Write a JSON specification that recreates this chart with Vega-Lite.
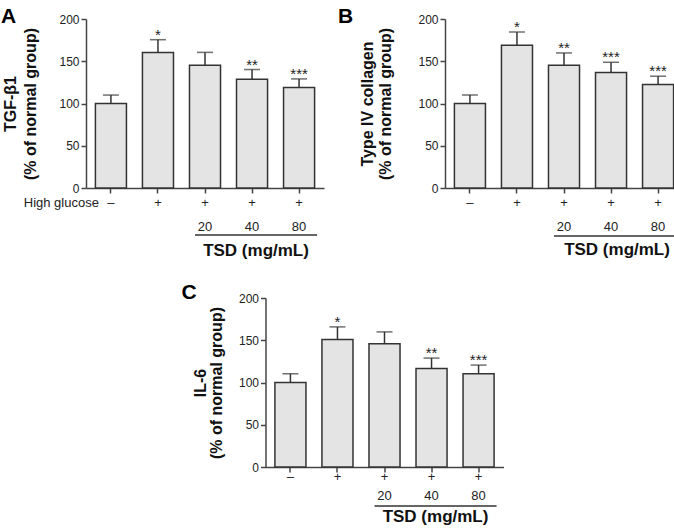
{
  "$schema": "https://vega.github.io/schema/vega-lite/v6.json",
  "padding": {"left": 0, "top": 6, "right": 0, "bottom": 0},
  "background": "white",
  "config": {
    "font": "Liberation Sans",
    "view": {"stroke": null},
    "axis": {"grid": false, "domainColor": "#444", "tickColor": "#444", "domainWidth": 1.5, "tickWidth": 1.5, "labelColor": "#222", "titleColor": "#111"},
    "axisY": {"values": [0, 50, 100, 150, 200], "labelFontSize": 12, "tickSize": 5, "labelPadding": 2, "titleFontSize": 16, "titleFontWeight": "bold", "titleLineHeight": 20},
    "axisX": {"labelExpr": "split(datum.value, '|')", "labelLineHeight": 24, "labelFontSize": 13, "labelAngle": 0, "title": null, "tickSize": 5, "labelPadding": 3},
    "title": {"fontSize": 21, "fontWeight": "bold", "anchor": "start", "frame": "bounds", "offset": 0, "color": "#000"}
  },
  "datasets": {
    "A": [
      {"cond": "–|", "mean": 100, "err": 110, "sig": ""},
      {"cond": "+|", "mean": 160.5, "err": 175.5, "sig": "*"},
      {"cond": "+|20", "mean": 145.3, "err": 160.5, "sig": ""},
      {"cond": "+|40", "mean": 128.7, "err": 140.2, "sig": "**"},
      {"cond": "+|80", "mean": 118.9, "err": 129.1, "sig": "***"}
    ],
    "B": [
      {"cond": "–|", "mean": 100, "err": 110, "sig": ""},
      {"cond": "+|", "mean": 168.9, "err": 184.6, "sig": "*"},
      {"cond": "+|20", "mean": 145.3, "err": 159.8, "sig": "**"},
      {"cond": "+|40", "mean": 136.6, "err": 148.8, "sig": "***"},
      {"cond": "+|80", "mean": 122.4, "err": 132.3, "sig": "***"}
    ],
    "C": [
      {"cond": "–|", "mean": 100, "err": 110.4, "sig": ""},
      {"cond": "+|", "mean": 150.9, "err": 165.8, "sig": "*"},
      {"cond": "+|20", "mean": 145.8, "err": 159.9, "sig": ""},
      {"cond": "+|40", "mean": 116.7, "err": 128.9, "sig": "**"},
      {"cond": "+|80", "mean": 110.4, "err": 120.6, "sig": "***"}
    ],
    "line": [{"cond": "+|20", "cond2": "+|80"}],
    "lab": [{"cond": "+|40", "t": "TSD (mg/mL)"}],
    "hg": [{"cond": "–|", "t": "High glucose"}]
  },
  "vconcat": [
    {
      "hconcat": [
        {
          "width": 238, "height": 169,
          "title": {"text": "A", "dx": -2, "dy": 18},
          "layer": [
            {"data": {"name": "A"}, "mark": {"type": "bar", "fill": "#e4e4e4", "stroke": "#333", "strokeWidth": 1.5},
             "encoding": {"x": {"field": "cond", "type": "nominal", "scale": {"domain": ["–|", "+|", "+|20", "+|40", "+|80"], "paddingInner": 0.34, "paddingOuter": 0.2}},
                          "y": {"field": "mean", "type": "quantitative", "scale": {"domain": [0, 200]}, "axis": {"title": ["TGF-β1", "(% of normal group)"], "titlePadding": 20}}}},
            {"data": {"name": "A"}, "mark": {"type": "rule", "stroke": "#333", "strokeWidth": 1.5},
             "encoding": {"x": {"field": "cond", "type": "nominal"}, "y": {"field": "mean", "type": "quantitative"}, "y2": {"field": "err"}}},
            {"data": {"name": "A"}, "mark": {"type": "tick", "size": 16, "thickness": 1.5, "color": "#333"},
             "encoding": {"x": {"field": "cond", "type": "nominal"}, "y": {"field": "err", "type": "quantitative"}}},
            {"data": {"name": "A"}, "mark": {"type": "text", "fontSize": 15, "baseline": "alphabetic", "color": "#222"},
             "encoding": {"x": {"field": "cond", "type": "nominal"}, "y": {"field": "err", "type": "quantitative"}, "text": {"field": "sig"}}},
            {"data": {"name": "line"}, "mark": {"type": "rule", "stroke": "#333", "strokeWidth": 1.5, "xOffset": -10, "x2Offset": 18, "yOffset": 47},
             "encoding": {"x": {"field": "cond", "type": "nominal"}, "x2": {"field": "cond2"}, "y": {"datum": 0, "type": "quantitative"}}},
            {"data": {"name": "lab"}, "mark": {"type": "text", "fontSize": 17, "fontWeight": "bold", "dx": 4, "dy": 63, "baseline": "middle", "color": "#111"},
             "encoding": {"x": {"field": "cond", "type": "nominal"}, "y": {"datum": 0, "type": "quantitative"}, "text": {"field": "t"}}},
            {"data": {"name": "hg"}, "mark": {"type": "text", "fontSize": 13, "dx": -12, "dy": 15, "align": "right", "baseline": "middle", "color": "#222"},
             "encoding": {"x": {"field": "cond", "type": "nominal"}, "y": {"datum": 0, "type": "quantitative"}, "text": {"field": "t"}}}
          ]
        },
        {
          "width": 238, "height": 169,
          "title": {"text": "B", "dx": -22, "dy": 18},
          "layer": [
            {"data": {"name": "B"}, "mark": {"type": "bar", "fill": "#e4e4e4", "stroke": "#333", "strokeWidth": 1.5},
             "encoding": {"x": {"field": "cond", "type": "nominal", "scale": {"domain": ["–|", "+|", "+|20", "+|40", "+|80"], "paddingInner": 0.34, "paddingOuter": 0.2}},
                          "y": {"field": "mean", "type": "quantitative", "scale": {"domain": [0, 200]}, "axis": {"title": ["Type IV collagen", "(% of normal group)"], "titlePadding": 24, "titleLineHeight": 18}}}},
            {"data": {"name": "B"}, "mark": {"type": "rule", "stroke": "#333", "strokeWidth": 1.5},
             "encoding": {"x": {"field": "cond", "type": "nominal"}, "y": {"field": "mean", "type": "quantitative"}, "y2": {"field": "err"}}},
            {"data": {"name": "B"}, "mark": {"type": "tick", "size": 16, "thickness": 1.5, "color": "#333"},
             "encoding": {"x": {"field": "cond", "type": "nominal"}, "y": {"field": "err", "type": "quantitative"}}},
            {"data": {"name": "B"}, "mark": {"type": "text", "fontSize": 15, "baseline": "alphabetic", "color": "#222"},
             "encoding": {"x": {"field": "cond", "type": "nominal"}, "y": {"field": "err", "type": "quantitative"}, "text": {"field": "sig"}}},
            {"data": {"name": "line"}, "mark": {"type": "rule", "stroke": "#333", "strokeWidth": 1.5, "xOffset": -10, "x2Offset": 18, "yOffset": 48},
             "encoding": {"x": {"field": "cond", "type": "nominal"}, "x2": {"field": "cond2"}, "y": {"datum": 0, "type": "quantitative"}}},
            {"data": {"name": "lab"}, "mark": {"type": "text", "fontSize": 17, "fontWeight": "bold", "dx": 6, "dy": 62, "baseline": "middle", "color": "#111"},
             "encoding": {"x": {"field": "cond", "type": "nominal"}, "y": {"datum": 0, "type": "quantitative"}, "text": {"field": "t"}}}
          ]
        }
      ],
      "spacing": 121,
      "bounds": "flush"
    },
    {
      "width": 238, "height": 169,
      "title": {"text": "C", "dx": -11, "dy": 15},
      "layer": [
        {"data": {"name": "C"}, "mark": {"type": "bar", "fill": "#e4e4e4", "stroke": "#333", "strokeWidth": 1.5},
         "encoding": {"x": {"field": "cond", "type": "nominal", "scale": {"domain": ["–|", "+|", "+|20", "+|40", "+|80"], "paddingInner": 0.34, "paddingOuter": 0.2},
                            "axis": {"labelPadding": -2, "labelLineHeight": 19}},
                      "y": {"field": "mean", "type": "quantitative", "scale": {"domain": [0, 200]}, "axis": {"title": ["IL-6", "(% of normal group)"], "titlePadding": 14, "titleLineHeight": 16}}}},
        {"data": {"name": "C"}, "mark": {"type": "rule", "stroke": "#333", "strokeWidth": 1.5},
         "encoding": {"x": {"field": "cond", "type": "nominal"}, "y": {"field": "mean", "type": "quantitative"}, "y2": {"field": "err"}}},
        {"data": {"name": "C"}, "mark": {"type": "tick", "size": 16, "thickness": 1.5, "color": "#333"},
         "encoding": {"x": {"field": "cond", "type": "nominal"}, "y": {"field": "err", "type": "quantitative"}}},
        {"data": {"name": "C"}, "mark": {"type": "text", "fontSize": 15, "baseline": "alphabetic", "color": "#222"},
         "encoding": {"x": {"field": "cond", "type": "nominal"}, "y": {"field": "err", "type": "quantitative"}, "text": {"field": "sig"}}},
        {"data": {"name": "line"}, "mark": {"type": "rule", "stroke": "#333", "strokeWidth": 1.5, "xOffset": -10, "x2Offset": 18, "yOffset": 39},
         "encoding": {"x": {"field": "cond", "type": "nominal"}, "x2": {"field": "cond2"}, "y": {"datum": 0, "type": "quantitative"}}},
        {"data": {"name": "lab"}, "mark": {"type": "text", "fontSize": 17, "fontWeight": "bold", "dx": 4, "dy": 50, "baseline": "middle", "color": "#111"},
         "encoding": {"x": {"field": "cond", "type": "nominal"}, "y": {"datum": 0, "type": "quantitative"}, "text": {"field": "t"}}}
      ]
    }
  ],
  "spacing": 23,
  "center": true
}
